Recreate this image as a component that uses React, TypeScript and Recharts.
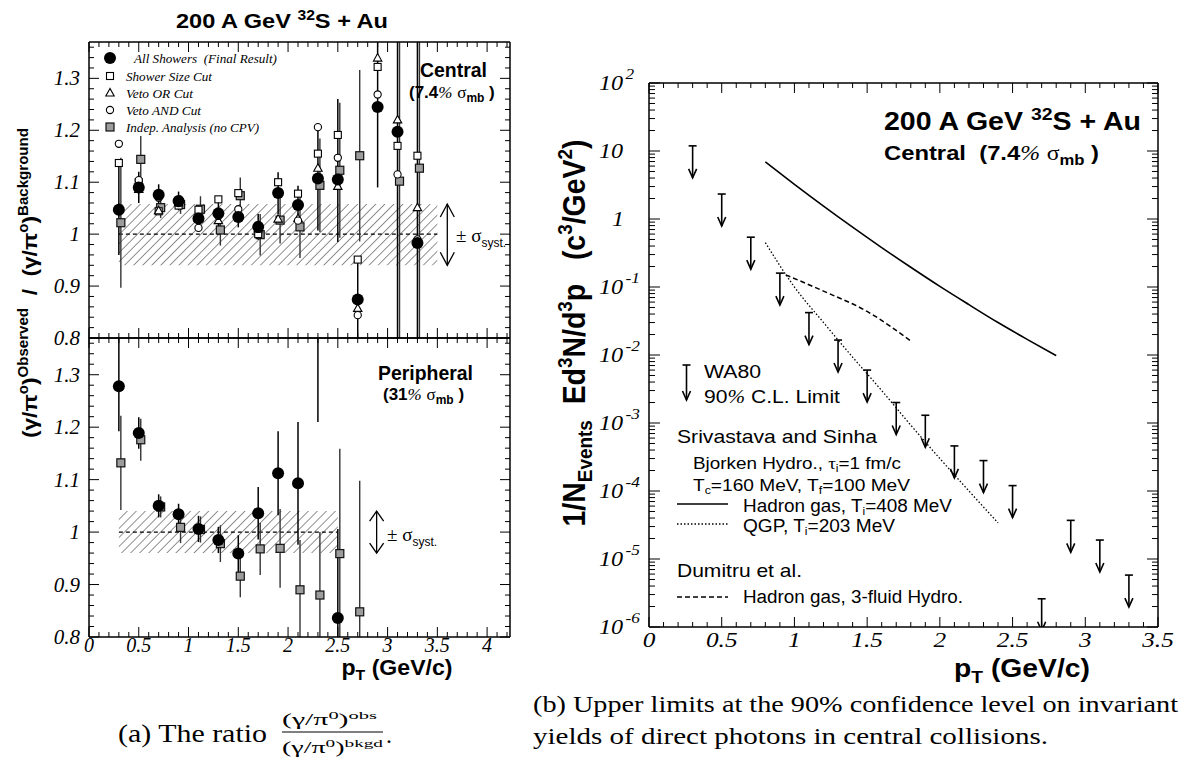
import React from 'react';
import { ComposedChart, Scatter, Line, XAxis, YAxis, ErrorBar, ReferenceArea, ReferenceLine } from 'recharts';

const SANS = '"Liberation Sans", Arial, Helvetica, sans-serif';
const SERIF = '"Liberation Serif", "Times New Roman", Times, serif';

// ---------------- (a) ratio : axes ----------------
const ratioXDomain: [number, number] = [0, 4.23];
const ratioYDomain: [number, number] = [0.8, 1.37];
const ratioXMajor = [0, 0.5, 1, 1.5, 2, 2.5, 3, 3.5, 4];
const ratioXLabels = ['0', '0.5', '1', '1.5', '2', '2.5', '3', '3.5', '4'];
const ratioYMajor = [0.8, 0.9, 1.0, 1.1, 1.2, 1.3];
const ratioYLabels = ['0.8', '0.9', '1', '1.1', '1.2', '1.3'];
const ratioXTicks = Array.from({ length: 43 }, (_, i) => i / 10);
const ratioYTicks = Array.from({ length: 29 }, (_, i) => Math.round((0.8 + 0.02 * i) * 1000) / 1000);

// ---------------- (a) central (7.4% sigma_mb) ----------------
const centralPt = [0.3, 0.5, 0.7, 0.9, 1.1, 1.3, 1.5, 1.7, 1.9, 2.1, 2.3, 2.5, 2.7, 2.9, 3.1, 3.3];
const centralAllShowers = [1.047, 1.09, 1.076, 1.064, 1.03, 1.04, 1.033, 1.014, 1.079, 1.056, 1.107, 1.105, 0.874, 1.245, 1.197, 0.983];
const centralAllShowersErr: [number, number][] = [
  [0.087, 0.09], [0.03, 0.03], [0.02, 0.02], [0.018, 0.018], [0.02, 0.02], [0.025, 0.025], [0.02, 0.02], [0.025, 0.025],
  [0.04, 0.04], [0.037, 0.037], [0.1, 0.1], [0.12, 0.155], [0.2, 0.08], [0.155, 0.2], [0.6, 0.6], [0.6, 0.6],
];
const centralShowerSize = [1.137, 1.1, 1.044, 1.055, 1.047, 1.067, 1.079, 1.0, 1.1, 1.078, 1.155, 1.191, 0.951, 1.322, 1.17, 1.151];
const centralVetoOR = [1.05, 1.086, 1.045, 1.06, 1.03, 1.026, 1.035, 1.01, 1.029, 1.03, 1.127, 1.092, 0.857, 1.339, 1.22, 1.051];
const centralVetoAND = [1.174, 1.104, 1.07, 1.06, 1.012, 1.035, 1.048, 1.01, 1.08, 1.026, 1.206, 1.147, 0.844, 1.269, 1.115, 0.99];
const centralIndepPt = [0.32, 0.52, 0.72, 0.92, 1.12, 1.32, 1.52, 1.72, 1.92, 2.12, 2.32, 2.52, 2.72, 3.12, 3.32];
const centralIndep = [1.022, 1.144, 1.051, 1.057, 1.048, 1.008, 1.074, 0.999, 1.027, 1.014, 1.094, 1.123, 1.151, 1.102, 1.127];
const centralIndepErr: [number, number][] = [
  [0.125, 0.125], [0.045, 0.045], [0.02, 0.02], [0.018, 0.018], [0.025, 0.025], [0.03, 0.03], [0.035, 0.035], [0.04, 0.04],
  [0.045, 0.045], [0.06, 0.06], [0.09, 0.09], [0.13, 0.13], [0.165, 0.165], [0.6, 0.6], [0.6, 0.6],
];
const centralSystBand = [0.3, 3.5, 0.94, 1.058]; // x1, x2, y1, y2
const centralSystArrow = [3.6, 0.94, 1.058];

// ---------------- (a) peripheral (31% sigma_mb) ----------------
const periPt = [0.3, 0.5, 0.7, 0.9, 1.1, 1.3, 1.5, 1.7, 1.9, 2.1, 2.3, 2.5];
const periAllShowers = [1.278, 1.189, 1.05, 1.034, 1.006, 0.985, 0.959, 1.036, 1.112, 1.093, 1.6, 0.836];
const periAllShowersErr: [number, number][] = [
  [0.086, 0.1], [0.03, 0.03], [0.022, 0.022], [0.02, 0.02], [0.025, 0.025], [0.025, 0.025], [0.035, 0.035], [0.05, 0.05],
  [0.08, 0.08], [0.117, 0.117], [0.39, 0.39], [0.2, 0.17],
];
const periIndepPt = [0.32, 0.52, 0.72, 0.92, 1.12, 1.32, 1.52, 1.72, 1.92, 2.12, 2.32, 2.52, 2.72];
const periIndep = [1.132, 1.176, 1.048, 1.009, 1.005, 0.978, 0.916, 0.968, 0.969, 0.89, 0.88, 0.959, 0.848];
const periIndepErr: [number, number][] = [
  [0.09, 0.09], [0.04, 0.04], [0.02, 0.02], [0.03, 0.03], [0.025, 0.025], [0.035, 0.035], [0.04, 0.04], [0.05, 0.05],
  [0.075, 0.075], [0.095, 0.095], [0.12, 0.12], [0.2, 0.2], [0.25, 0.25],
];
const periSystBand = [0.3, 2.5, 0.96, 1.04];
const periSystArrow = [2.89, 0.96, 1.04];

// ---------------- (b) upper limits ----------------
const limitXDomain: [number, number] = [0, 3.5];
const limitYDomain: [number, number] = [1e-6, 100];
const limitXMajor = [0, 0.5, 1, 1.5, 2, 2.5, 3, 3.5];
const limitXLabels = ['0', '0.5', '1', '1.5', '2', '2.5', '3', '3.5'];
const limitYMajor = [1e-6, 1e-5, 1e-4, 1e-3, 1e-2, 1e-1, 1, 10, 100];
const limitYBase = ['10', '10', '10', '10', '10', '10', '1', '10', '10'];
const limitYExp = ['-6', '-5', '-4', '-3', '-2', '-1', '', '', '2'];
const limitXTicks = Array.from({ length: 36 }, (_, i) => i / 10);
const limitYTicks: number[] = [];
for (let k = -6; k <= 1; k++) for (let m = 1; m <= 9; m++) limitYTicks.push(parseFloat((m * Math.pow(10, k)).toPrecision(3)));
limitYTicks.push(100);

const wa80Pt = [0.3, 0.5, 0.7, 0.9, 1.1, 1.3, 1.5, 1.7, 1.9, 2.1, 2.3, 2.5, 2.7, 2.9, 3.1, 3.3];
const wa80Limit = [11.9, 2.33, 0.54, 0.16, 0.042, 0.0166, 0.006, 0.002, 0.0013, 4.6e-4, 2.8e-4, 1.2e-4, 2.6e-6, 3.7e-5, 1.9e-5, 5.8e-6];
const hadronGasPt = [0.8, 1.0, 1.2, 1.4, 1.6, 1.8, 2.0, 2.2, 2.4, 2.6, 2.8];
const hadronGasVal = [6.92, 3.24, 1.55, 0.759, 0.38, 0.195, 0.102, 0.055, 0.03, 0.017, 0.0098];
const qgpPt = [0.8, 1.0, 1.2, 1.4, 1.6, 1.8, 2.0, 2.2, 2.4];
const qgpVal = [0.45, 0.1, 0.03, 0.0093, 0.003, 9.3e-4, 3.0e-4, 1.0e-4, 3.4e-5];
const dumitruPt = [0.94, 1.2, 1.5, 1.81];
const dumitruVal = [0.151, 0.087, 0.0437, 0.0155];

// error bars are cut at the panel edges (the frame clips them in the original)
const clampErr = (ys: number[], es: [number, number][], dom: [number, number]): [number, number][] =>
  es.map(([lo, hi], i) => [Math.min(lo, ys[i] - dom[0]), Math.min(hi, dom[1] - ys[i])]);

const rows = (xs: number[], ys: number[], es?: [number, number][]) =>
  xs.map((x, i) => ({ x, y: ys[i], e: es ? es[i] : undefined }));

const inRatio = (p: any) => !p.payload || (p.payload.y >= ratioYDomain[0] && p.payload.y <= ratioYDomain[1]);

// ---------------- shapes ----------------
const FilledCircle = (p: any) => (inRatio(p) ? <circle cx={p.cx} cy={p.cy} r={6} fill="#000" /> : <g />);
const OpenSquare = (p: any) => (
  <rect x={p.cx - 3.5} y={p.cy - 3.5} width={7} height={7} fill="#fff" stroke="#000" strokeWidth={1.1} />
);
const OpenTriangle = (p: any) => (
  <polygon points={`${p.cx},${p.cy - 4.5} ${p.cx - 4.2},${p.cy + 3} ${p.cx + 4.2},${p.cy + 3}`} fill="#fff" stroke="#000" strokeWidth={1.1} />
);
const OpenCircle = (p: any) => <circle cx={p.cx} cy={p.cy} r={3.6} fill="#fff" stroke="#000" strokeWidth={1.1} />;
const GreySquare = (p: any) =>
  inRatio(p) ? <rect x={p.cx - 4} y={p.cy - 4} width={8} height={8} fill="#9c9c9c" stroke="#111" strokeWidth={1.2} /> : <g />;
const LimitArrow = (p: any) => {
  const { cx, cy } = p;
  return (
    <g stroke="#000" strokeWidth={1.6} fill="none" clipPath="url(#limitClip)">
      <line x1={cx - 4} x2={cx + 4} y1={cy} y2={cy} />
      <line x1={cx} x2={cx} y1={cy} y2={cy + 32} />
      <polyline points={`${cx - 4},${cy + 23} ${cx},${cy + 32} ${cx + 4},${cy + 23}`} />
    </g>
  );
};
const makeDoubleArrow = (w: number, h: number) => (p: any) => {
  const x = p.x1;
  const top = Math.min(p.y1, p.y2);
  const bot = Math.max(p.y1, p.y2);
  return (
    <g stroke="#000" strokeWidth={1.3} fill="none">
      <line x1={x} x2={x} y1={top} y2={bot} />
      <polyline points={`${x - w},${top + h} ${x},${top} ${x + w},${top + h}`} />
      <polyline points={`${x - w},${bot - h} ${x},${bot} ${x + w},${bot - h}`} />
    </g>
  );
};

// ---------------- ticks ----------------
type Side = 'bottom' | 'top' | 'left' | 'right';
const tickFactory = (
  side: Side,
  majors: number[],
  majorLen: number,
  minorLen: number,
  label?: (idx: number, x: number, y: number) => React.ReactNode,
) => (props: any) => {
  const x = Number(props.x);
  const y = Number(props.y);
  const v = Number(props.payload && props.payload.value);
  const idx = majors.findIndex((m) => Math.abs(m - v) <= 1e-9 + 1e-6 * Math.abs(m));
  const len = idx >= 0 ? majorLen : minorLen;
  let x2 = x;
  let y2 = y;
  if (side === 'bottom') y2 = y - len;
  else if (side === 'top') y2 = y + len;
  else if (side === 'left') x2 = x + len;
  else x2 = x - len;
  return (
    <g>
      <line x1={x} y1={y} x2={x2} y2={y2} stroke="#000" strokeWidth={1} />
      {idx >= 0 && label ? label(idx, x, y) : null}
    </g>
  );
};

const AXIS = { stroke: '#000', strokeWidth: 1.5 };
const common = { tickLine: false, tickSize: 0, tickMargin: 0, interval: 0 as const, allowDataOverflow: true, axisLine: AXIS };

const ratioYLabel = (idx: number, x: number, y: number) => (
  <text x={x - 9} y={y + 7} textAnchor="end" fontFamily={SERIF} fontStyle="italic" fontSize={21} fill="#000">
    {ratioYLabels[idx]}
  </text>
);
const ratioXLabel = (idx: number, x: number, y: number) => (
  <text x={x} y={y + 15} textAnchor="middle" fontFamily={SERIF} fontStyle="italic" fontSize={20} fill="#000">
    {ratioXLabels[idx]}
  </text>
);
const limitXLabel = (idx: number, x: number, y: number) => (
  <g transform={`translate(${x},${y + 20}) scale(1.15,1)`}>
    <text x={0} y={0} textAnchor="middle" fontFamily={SERIF} fontStyle="italic" fontSize={22} fill="#000">
      {limitXLabels[idx]}
    </text>
  </g>
);
const limitYLabel = (idx: number, x: number, y: number) => (
  <g transform={`translate(${x - (limitYBase[idx] === '1' ? 37 : 50)},${y + 7}) scale(1.15,1)`}>
    <text x={0} y={0} fontFamily={SERIF} fontStyle="italic" fontSize={21} fill="#000">
      {limitYBase[idx]}
      {limitYExp[idx] ? (
        <tspan dx={2} dy={-11} fontSize={15}>
          {limitYExp[idx]}
        </tspan>
      ) : null}
    </text>
  </g>
);

const Hatch = ({ id }: { id: string }) => (
  <defs>
    <pattern id={id} patternUnits="userSpaceOnUse" width={6.4} height={6.4} patternTransform="rotate(45)">
      <line x1={0} y1={0} x2={0} y2={6.4} stroke="#222" strokeWidth={1} />
    </pattern>
  </defs>
);

function CentralPanel() {
  return (
    <ComposedChart width={520} height={360} margin={{ top: 41, right: 9, bottom: 21, left: 29 }}>
      <Hatch id="hatchC" />
      <XAxis xAxisId={0} type="number" dataKey="x" domain={ratioXDomain} ticks={ratioXTicks} height={1} {...common}
        tick={tickFactory('bottom', ratioXMajor, 10, 5)} />
      <XAxis xAxisId="top" orientation="top" type="number" dataKey="x" domain={ratioXDomain} ticks={ratioXTicks} height={1} {...common}
        tick={tickFactory('top', ratioXMajor, 10, 5)} />
      <YAxis yAxisId={0} type="number" dataKey="y" domain={ratioYDomain} ticks={ratioYTicks} width={60} {...common}
        tick={tickFactory('left', ratioYMajor, 10, 5, ratioYLabel)} />
      <YAxis yAxisId="right" orientation="right" type="number" dataKey="y" domain={ratioYDomain} ticks={ratioYTicks} width={1} {...common}
        tick={tickFactory('right', ratioYMajor, 10, 5)} />
      <ReferenceArea x1={centralSystBand[0]} x2={centralSystBand[1]} y1={centralSystBand[2]} y2={centralSystBand[3]}
        fill="url(#hatchC)" fillOpacity={1} stroke="none" ifOverflow="visible" />
      <ReferenceLine segment={[{ x: centralSystBand[0], y: 1 }, { x: centralSystBand[1], y: 1 }]} stroke="#000" strokeWidth={1.2} strokeDasharray="4 3" />
      <ReferenceLine segment={[{ x: centralSystArrow[0], y: centralSystArrow[1] }, { x: centralSystArrow[0], y: centralSystArrow[2] }]}
        shape={makeDoubleArrow(7, 13)} />
      <Scatter data={rows(centralIndepPt, centralIndep, clampErr(centralIndep, centralIndepErr, ratioYDomain))} dataKey="y" shape={GreySquare} isAnimationActive={false}>
        <ErrorBar dataKey="e" direction="y" width={0} stroke="#333" strokeWidth={1.4} />
      </Scatter>
      <Scatter data={rows(centralPt, centralShowerSize)} dataKey="y" shape={OpenSquare} isAnimationActive={false} />
      <Scatter data={rows(centralPt, centralVetoOR)} dataKey="y" shape={OpenTriangle} isAnimationActive={false} />
      <Scatter data={rows(centralPt, centralVetoAND)} dataKey="y" shape={OpenCircle} isAnimationActive={false} />
      <Scatter data={rows(centralPt, centralAllShowers, clampErr(centralAllShowers, centralAllShowersErr, ratioYDomain))} dataKey="y" shape={FilledCircle} isAnimationActive={false}>
        <ErrorBar dataKey="e" direction="y" width={0} stroke="#000" strokeWidth={1.5} />
      </Scatter>
    </ComposedChart>
  );
}

function PeripheralPanel() {
  return (
    <ComposedChart width={520} height={400} margin={{ top: 7, right: 9, bottom: 33, left: 29 }}>
      <Hatch id="hatchP" />
      <XAxis xAxisId={0} type="number" dataKey="x" domain={ratioXDomain} ticks={ratioXTicks} height={60} {...common}
        tick={tickFactory('bottom', ratioXMajor, 10, 5, ratioXLabel)} />
      <XAxis xAxisId="top" orientation="top" type="number" dataKey="x" domain={ratioXDomain} ticks={ratioXTicks} height={1} {...common}
        tick={tickFactory('top', ratioXMajor, 10, 5)} />
      <YAxis yAxisId={0} type="number" dataKey="y" domain={ratioYDomain} ticks={ratioYTicks} width={60} {...common}
        tick={tickFactory('left', ratioYMajor, 10, 5, ratioYLabel)} />
      <YAxis yAxisId="right" orientation="right" type="number" dataKey="y" domain={ratioYDomain} ticks={ratioYTicks} width={1} {...common}
        tick={tickFactory('right', ratioYMajor, 10, 5)} />
      <ReferenceArea x1={periSystBand[0]} x2={periSystBand[1]} y1={periSystBand[2]} y2={periSystBand[3]}
        fill="url(#hatchP)" fillOpacity={1} stroke="none" ifOverflow="visible" />
      <ReferenceLine segment={[{ x: periSystBand[0], y: 1 }, { x: periSystBand[1], y: 1 }]} stroke="#000" strokeWidth={1.2} strokeDasharray="4 3" />
      <ReferenceLine segment={[{ x: periSystArrow[0], y: periSystArrow[1] }, { x: periSystArrow[0], y: periSystArrow[2] }]}
        shape={makeDoubleArrow(7, 10)} />
      <Scatter data={rows(periIndepPt, periIndep, clampErr(periIndep, periIndepErr, ratioYDomain))} dataKey="y" shape={GreySquare} isAnimationActive={false}>
        <ErrorBar dataKey="e" direction="y" width={0} stroke="#333" strokeWidth={1.4} />
      </Scatter>
      <Scatter data={rows(periPt, periAllShowers, clampErr(periAllShowers, periAllShowersErr, ratioYDomain))} dataKey="y" shape={FilledCircle} isAnimationActive={false}>
        <ErrorBar dataKey="e" direction="y" width={0} stroke="#000" strokeWidth={1.5} />
      </Scatter>
    </ComposedChart>
  );
}

function LimitsPanel() {
  return (
    <ComposedChart width={680} height={630} margin={{ top: 42, right: 21, bottom: 3, left: 69 }}>
      <defs>
        <clipPath id="limitClip">
          <rect x={149} y={43} width={509} height={544} />
        </clipPath>
      </defs>
      <XAxis xAxisId={0} type="number" dataKey="x" domain={limitXDomain} ticks={limitXTicks} height={40} {...common}
        tick={tickFactory('bottom', limitXMajor, 10, 5, limitXLabel)} />
      <XAxis xAxisId="top" orientation="top" type="number" dataKey="x" domain={limitXDomain} ticks={limitXTicks} height={1} {...common}
        tick={tickFactory('top', limitXMajor, 10, 5)} />
      <YAxis yAxisId={0} type="number" dataKey="y" scale="log" domain={limitYDomain} ticks={limitYTicks} width={80} {...common}
        tick={tickFactory('left', limitYMajor, 11, 6, limitYLabel)} />
      <YAxis yAxisId="right" orientation="right" type="number" dataKey="y" scale="log" domain={limitYDomain} ticks={limitYTicks} width={1} {...common}
        tick={tickFactory('right', limitYMajor, 11, 6)} />
      <Line data={rows(hadronGasPt, hadronGasVal)} dataKey="y" type="monotone" dot={false} stroke="#000" strokeWidth={1.6} isAnimationActive={false} />
      <Line data={rows(qgpPt, qgpVal)} dataKey="y" type="monotone" dot={false} stroke="#000" strokeWidth={1.3} strokeDasharray="1.5 2" isAnimationActive={false} />
      <Line data={rows(dumitruPt, dumitruVal)} dataKey="y" type="monotone" dot={false} stroke="#000" strokeWidth={1.5} strokeDasharray="5 3" isAnimationActive={false} />
      <Scatter data={rows(wa80Pt, wa80Limit)} dataKey="y" shape={LimitArrow} isAnimationActive={false} />
    </ComposedChart>
  );
}

const T = (props: any) => <text fill="#000" {...props} />;
const SA = { lengthAdjust: 'spacingAndGlyphs' as const };

function Overlay() {
  return (
    <svg width={1180} height={773} style={{ position: 'absolute', left: 0, top: 0, pointerEvents: 'none' }}>
      {/* ----- (a) ----- */}
      <T x={282} y={28} textAnchor="middle" fontFamily={SANS} fontWeight="bold" fontSize={21} textLength={212} {...SA}>
        200 A GeV <tspan dy={-8} fontSize={14}>32</tspan><tspan dy={8}>S + Au</tspan>
      </T>
      <T transform="translate(37,283) rotate(-90)" textAnchor="middle" fontFamily={SANS} fontWeight="bold" fontSize={21} textLength={310} {...SA}>
        (γ/π<tspan dy={-9} fontSize={14}>o</tspan><tspan dy={9}>)</tspan><tspan dy={-9} fontSize={14}>Observed</tspan>
        <tspan dy={9}>{'\u00a0\u00a0/\u00a0\u00a0'}(γ/π</tspan><tspan dy={-9} fontSize={14}>o</tspan><tspan dy={9}>)</tspan>
        <tspan dy={-9} fontSize={14}>Background</tspan>
      </T>
      {/* legend */}
      <FilledCircle cx={110} cy={58} />
      <OpenSquare cx={110} cy={76} />
      <OpenTriangle cx={110} cy={93} />
      <OpenCircle cx={110} cy={110} />
      <GreySquare cx={110} cy={127} />
      <T x={134} y={63} fontFamily={SERIF} fontStyle="italic" fontSize={13.5} textLength={143} {...SA}>All Showers{'\u00a0\u00a0'}(Final Result)</T>
      <T x={126} y={81} fontFamily={SERIF} fontStyle="italic" fontSize={13.5} textLength={86} {...SA}>Shower Size Cut</T>
      <T x={126} y={98} fontFamily={SERIF} fontStyle="italic" fontSize={13.5} textLength={67} {...SA}>Veto OR Cut</T>
      <T x={126} y={115} fontFamily={SERIF} fontStyle="italic" fontSize={13.5} textLength={75} {...SA}>Veto AND Cut</T>
      <T x={126} y={132} fontFamily={SERIF} fontStyle="italic" fontSize={13.5} textLength={133} {...SA}>Indep. Analysis (no CPV)</T>
      {/* central labels */}
      <T x={420} y={77} fontFamily={SANS} fontWeight="bold" fontSize={19.5} textLength={67} {...SA}>Central</T>
      <T x={409} y={98} fontFamily={SANS} fontWeight="bold" fontSize={17}>
        (7.4<tspan fontFamily={SERIF} fontStyle="italic" fontWeight="normal">%</tspan> <tspan fontFamily={SERIF} fontWeight="normal">σ</tspan>
        <tspan fontSize={12} dy={4}>mb</tspan><tspan dy={-4}> )</tspan>
      </T>
      <T x={456} y={242} fontFamily={SERIF} fontSize={19}>
        ± σ<tspan fontFamily={SANS} fontSize={12} dy={5}>syst.</tspan>
      </T>
      {/* peripheral labels */}
      <T x={378} y={380} fontFamily={SANS} fontWeight="bold" fontSize={19.5} textLength={95} {...SA}>Peripheral</T>
      <T x={383} y={400} fontFamily={SANS} fontWeight="bold" fontSize={17}>
        (31<tspan fontFamily={SERIF} fontStyle="italic" fontWeight="normal">%</tspan> <tspan fontFamily={SERIF} fontWeight="normal">σ</tspan>
        <tspan fontSize={12} dy={4}>mb</tspan><tspan dy={-4}> )</tspan>
      </T>
      <T x={387} y={541} fontFamily={SERIF} fontSize={19}>
        ± σ<tspan fontFamily={SANS} fontSize={12} dy={5}>syst.</tspan>
      </T>
      <T x={397} y={675} textAnchor="middle" fontFamily={SANS} fontWeight="bold" fontSize={22} textLength={111} {...SA}>
        p<tspan dy={5} fontSize={15}>T</tspan><tspan dy={-5}> (GeV/c)</tspan>
      </T>
      {/* caption a */}
      <T x={118} y={742} fontFamily={SERIF} fontSize={25} textLength={149} {...SA}>(a) The ratio</T>
      <T x={282} y={725} fontFamily={SERIF} fontSize={16} textLength={95} {...SA}>
        (γ/π<tspan dy={-6} fontSize={11}>0</tspan><tspan dy={6}>)</tspan><tspan dy={-6} fontSize={11}>obs</tspan>
      </T>
      <line x1={282} x2={383} y1={732} y2={732} stroke="#000" strokeWidth={1} />
      <T x={282} y={753} fontFamily={SERIF} fontSize={16} textLength={101} {...SA}>
        (γ/π<tspan dy={-6} fontSize={11}>0</tspan><tspan dy={6}>)</tspan><tspan dy={-6} fontSize={11}>bkgd</tspan>
      </T>
      <T x={386} y={743} fontFamily={SERIF} fontSize={24}>.</T>

      {/* ----- (b) ----- */}
      <T x={884} y={130} fontFamily={SANS} fontWeight="bold" fontSize={25} textLength={257} {...SA}>
        200 A GeV <tspan dy={-10} fontSize={17}>32</tspan><tspan dy={10}>S + Au</tspan>
      </T>
      <T x={884} y={160} fontFamily={SANS} fontWeight="bold" fontSize={20} textLength={215} {...SA}>
        Central{'\u00a0\u00a0'}(7.4<tspan fontFamily={SERIF} fontStyle="italic" fontWeight="normal">%</tspan> <tspan fontFamily={SERIF} fontWeight="normal">σ</tspan>
        <tspan fontSize={14} dy={5}>mb</tspan><tspan dy={-5}> )</tspan>
      </T>
      <g transform="translate(585,333) scale(1.15,1) rotate(-90)">
        <T x={0} y={0} textAnchor="middle" fontFamily={SANS} fontWeight="bold" fontSize={27} textLength={387} {...SA}>
          1/N<tspan dy={6} fontSize={18}>Events</tspan><tspan dy={-6}>{'\u00a0\u00a0'}Ed</tspan><tspan dy={-11} fontSize={18}>3</tspan>
          <tspan dy={11}>N/d</tspan><tspan dy={-11} fontSize={18}>3</tspan><tspan dy={11}>p{'\u00a0\u00a0\u00a0'}(c</tspan>
          <tspan dy={-11} fontSize={18}>3</tspan><tspan dy={11}>/GeV</tspan><tspan dy={-11} fontSize={18}>2</tspan><tspan dy={11}>)</tspan>
        </T>
      </g>
      {/* legend (b) */}
      <g stroke="#000" strokeWidth={1.6} fill="none">
        <line x1={682.5} x2={690.5} y1={365} y2={365} />
        <line x1={686.5} x2={686.5} y1={365} y2={400} />
        <polyline points="682.5,391 686.5,400 690.5,391" />
        <line x1={677} x2={728} y1={504} y2={504} strokeWidth={1.6} />
        <line x1={677} x2={728} y1={524} y2={524} strokeWidth={1.3} strokeDasharray="1.5 2" />
        <line x1={677} x2={728} y1={597} y2={597} strokeWidth={1.5} strokeDasharray="5 3" />
      </g>
      <T x={704} y={378} fontFamily={SANS} fontSize={18} textLength={57} {...SA}>WA80</T>
      <T x={704} y={403} fontFamily={SANS} fontSize={18} textLength={136} {...SA}>
        90<tspan fontFamily={SERIF} fontStyle="italic">%</tspan> C.L. Limit
      </T>
      <T x={677} y={443} fontFamily={SANS} fontSize={19} textLength={200} {...SA}>Srivastava and Sinha</T>
      <T x={693} y={469} fontFamily={SANS} fontSize={17} textLength={208} {...SA}>
        Bjorken Hydro., <tspan fontFamily={SERIF}>τ</tspan><tspan dy={3} fontSize={11}>i</tspan><tspan dy={-3}>=1 fm/c</tspan>
      </T>
      <T x={693} y={491} fontFamily={SANS} fontSize={17} textLength={217} {...SA}>
        T<tspan dy={3} fontSize={11}>c</tspan><tspan dy={-3}>=160 MeV, T</tspan><tspan dy={3} fontSize={11}>f</tspan><tspan dy={-3}>=100 MeV</tspan>
      </T>
      <T x={743} y={512} fontFamily={SANS} fontSize={17.5} textLength={209} {...SA}>
        Hadron gas, T<tspan dy={3} fontSize={11}>i</tspan><tspan dy={-3}>=408 MeV</tspan>
      </T>
      <T x={743} y={532} fontFamily={SANS} fontSize={17.5} textLength={152} {...SA}>
        QGP, T<tspan dy={3} fontSize={11}>i</tspan><tspan dy={-3}>=203 MeV</tspan>
      </T>
      <T x={677} y={577} fontFamily={SANS} fontSize={19} textLength={125} {...SA}>Dumitru et al.</T>
      <T x={743} y={603} fontFamily={SANS} fontSize={18} textLength={220} {...SA}>Hadron gas, 3-fluid Hydro.</T>
      <T x={954} y={677} fontFamily={SANS} fontWeight="bold" fontSize={25} textLength={136} {...SA}>
        p<tspan dy={6} fontSize={17}>T</tspan><tspan dy={-6}> (GeV/c)</tspan>
      </T>
      {/* caption b */}
      <T x={533} y={712} fontFamily={SERIF} fontSize={24} textLength={645} {...SA}>
        (b) Upper limits at the 90% confidence level on invariant
      </T>
      <T x={533} y={744} fontFamily={SERIF} fontSize={24} textLength={515} {...SA}>
        yields of direct photons in central collisions.
      </T>
    </svg>
  );
}

export default function App() {
  return (
    <div style={{ position: 'absolute', left: 0, top: 0, width: 1180, height: 773, background: '#fff', overflow: 'hidden' }}>
      <div style={{ position: 'absolute', left: 0, top: 0 }}>
        <CentralPanel />
      </div>
      <div style={{ position: 'absolute', left: 0, top: 330 }}>
        <PeripheralPanel />
      </div>
      <div style={{ position: 'absolute', left: 500, top: 40 }}>
        <LimitsPanel />
      </div>
      <Overlay />
    </div>
  );
}
